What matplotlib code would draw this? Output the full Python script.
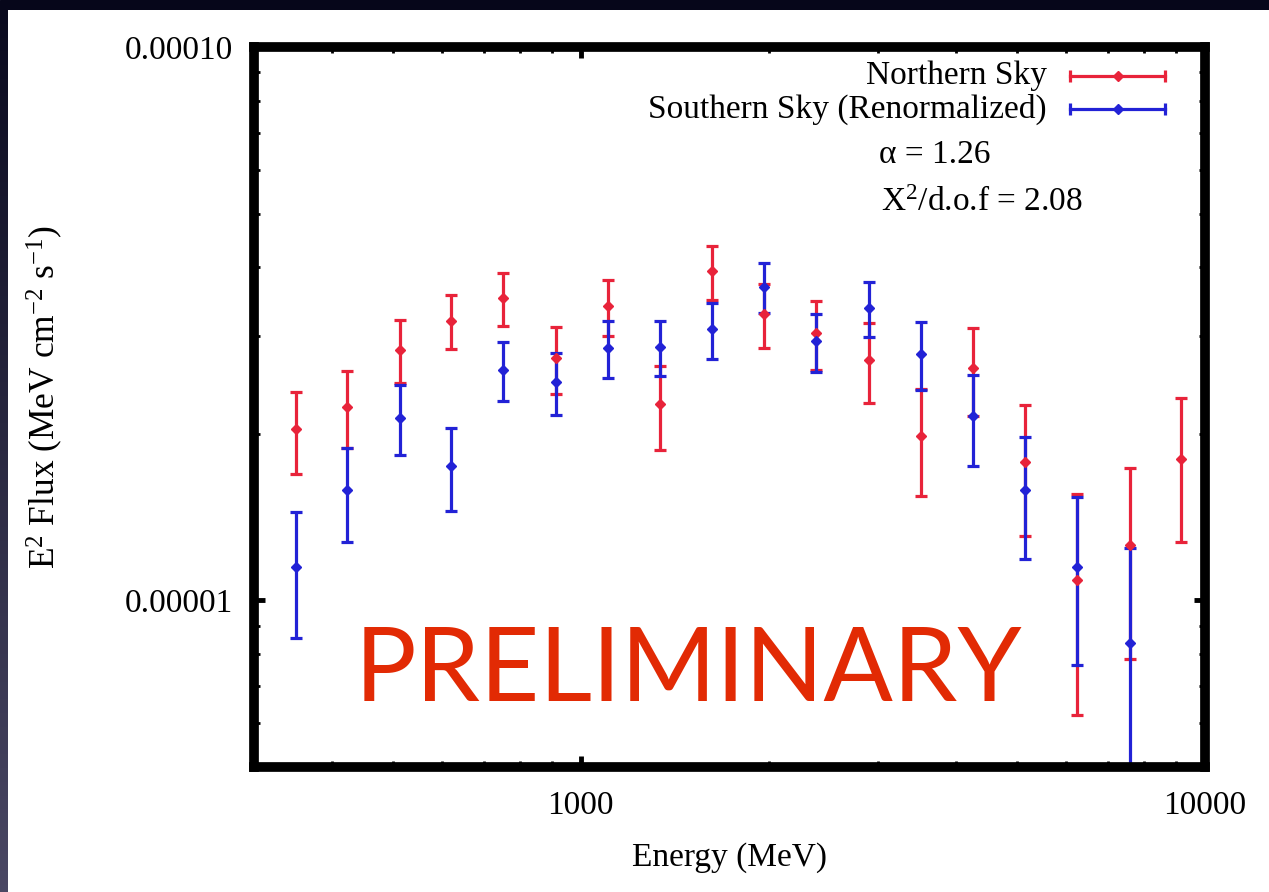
import numpy as np
import matplotlib.pyplot as plt
from matplotlib.ticker import FixedLocator, FixedFormatter, LogLocator, NullFormatter

# ---- data: E^2 flux spectra (units of 1e-5 MeV cm^-2 s^-1) ----
energy_north = [350, 422, 513, 620, 752, 914, 1106, 1341, 1624, 1969,
                2386, 2894, 3503, 4255, 5140, 6244, 7584, 9167]
flux_north = [2.04, 2.24, 2.84, 3.20, 3.52, 2.74, 3.40, 2.26, 3.93, 3.29,
              3.04, 2.72, 1.98, 2.63, 1.78, 1.09, 1.26, 1.80]
err_north = [0.345, 0.354, 0.369, 0.357, 0.382, 0.380, 0.400, 0.390, 0.437, 0.435,
             0.434, 0.446, 0.433, 0.480, 0.472, 0.470, 0.475, 0.524]

energy_south = [350, 422, 513, 620, 752, 914, 1106, 1341, 1624, 1969,
                2386, 2894, 3503, 4255, 5140, 6244, 7584]
flux_south = [1.15, 1.58, 2.14, 1.75, 2.61, 2.48, 2.86, 2.87, 3.09, 3.69,
              2.94, 3.38, 2.79, 2.15, 1.58, 1.15, 0.838]
err_south = [0.294, 0.304, 0.306, 0.300, 0.318, 0.321, 0.332, 0.330, 0.360, 0.389,
             0.357, 0.389, 0.390, 0.400, 0.394, 0.387, 0.404]

scale = 1e-5
alpha_fit = 1.26
chi2_dof = 2.08

RED = '#e8233a'
BLUE = '#2222d6'
SERIF = 'Liberation Serif'

plt.rcParams['font.family'] = SERIF
plt.rcParams['mathtext.fontset'] = 'custom'
plt.rcParams['mathtext.rm'] = SERIF
plt.rcParams['mathtext.it'] = SERIF + ':italic'

W, H = 1269, 892
fig = plt.figure(figsize=(W / 100, H / 100), dpi=100, facecolor='white')

# dark slide frame: band along the top, gradient strip down the left edge
top_band = fig.add_axes([0, 1 - 10 / H, 1, 10 / H])
top_band.set_axis_off()
top_band.add_patch(plt.Rectangle((0, 0), 1, 1, color='#06061a', transform=top_band.transAxes))
left_band = fig.add_axes([0, 0, 8 / W, 1 - 10 / H])
grad = np.linspace(0, 1, 256).reshape(-1, 1)
c_top = np.array([0.04, 0.04, 0.12])
c_bot = np.array([0.29, 0.28, 0.39])
left_band.imshow(c_top + grad[..., None] * (c_bot - c_top), aspect='auto')
left_band.set_axis_off()

ax = fig.add_axes([254 / W, 1 - 767 / H, (1205 - 254) / W, (767 - 47) / H])

ekw = dict(fmt='D', ms=5.5, elinewidth=2.3, capsize=4, capthick=2.3)
ax.errorbar(energy_north, np.array(flux_north) * scale, yerr=np.array(err_north) * scale,
            color=RED, mec=RED, mfc=RED, **ekw)
ax.errorbar(energy_south, np.array(flux_south) * scale, yerr=np.array(err_south) * scale,
            color=BLUE, mec=BLUE, mfc=BLUE, **ekw)

ax.set_xscale('log')
ax.set_yscale('log')
ax.set_xlim(300, 10000)
ax.set_ylim(5e-6, 1e-4)

ax.xaxis.set_major_locator(FixedLocator([1000, 10000]))
ax.xaxis.set_major_formatter(FixedFormatter(['1000', '10000']))
ax.yaxis.set_major_locator(FixedLocator([1e-5, 1e-4]))
ax.yaxis.set_major_formatter(FixedFormatter(['0.00001', '0.00010']))
for axis in (ax.xaxis, ax.yaxis):
    axis.set_minor_locator(LogLocator(base=10, subs=np.arange(2, 10)))
    axis.set_minor_formatter(NullFormatter())

ax.tick_params(which='both', direction='in', top=True, right=True,
               labelsize=24, colors='black')
ax.tick_params(which='major', length=8, width=3.5)
ax.tick_params(which='minor', length=4.5, width=2)
ax.tick_params(axis='y', which='major', pad=15)
ax.tick_params(axis='x', which='major', pad=17)
for sp in ax.spines.values():
    sp.set_linewidth(7)

ax.set_xlabel('Energy (MeV)', fontsize=24)
ax.xaxis.set_label_coords(0.5, -0.105)
fig.text(45 / W, 1 - 397 / H, r'E$^{2}$ Flux (MeV cm$^{-2}$ s$^{-1}$)',
         rotation=90, ha='center', va='center', fontsize=25.5)

# key, gnuplot style: label on the left, error-bar sample on the right
key_x0, key_x1 = (1070 - 254) / 951, (1165 - 254) / 951
for label, color, ky in [('Northern Sky', RED, 1 - 29 / 720),
                         ('Southern Sky (Renormalized)', BLUE, 1 - 62 / 720)]:
    ax.plot([key_x0, key_x1], [ky, ky], color=color, lw=2.3, transform=ax.transAxes,
            clip_on=False)
    ax.plot([key_x0, key_x1], [ky, ky], ls='none', marker='|', ms=9, mew=2.3,
            color=color, transform=ax.transAxes, clip_on=False)
    ax.plot([(key_x0 + key_x1) / 2], [ky], ls='none', marker='D', ms=5.5,
            color=color, transform=ax.transAxes, clip_on=False)
    ax.text((1047 - 254) / 951, ky, label, transform=ax.transAxes,
            ha='right', va='center', fontsize=24)

ax.text((935 - 254) / 951, 1 - (155 - 47) / 720, '\u03b1 = %.2f' % alpha_fit,
        transform=ax.transAxes, ha='center', va='center', fontsize=24)
ax.text((982 - 254) / 951, 1 - (203 - 47) / 720, r'X$^2$/d.o.f = %.2f' % chi2_dof,
        transform=ax.transAxes, ha='center', va='center', fontsize=24)

ax.text((688 - 254) / 951, 1 - (672 - 47) / 720, 'PRELIMINARY', transform=ax.transAxes,
        ha='center', va='center', fontsize=74, color='#e22a04', family='Lato')

fig.savefig('out.png', dpi=100, facecolor='white')
